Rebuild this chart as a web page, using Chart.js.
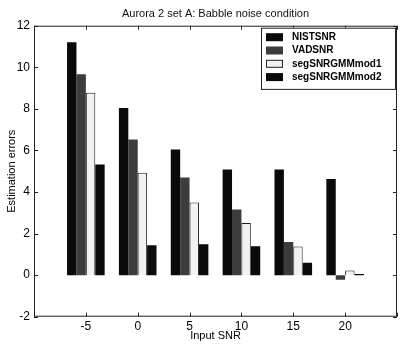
<!DOCTYPE html>
<html>
<head>
<meta charset="utf-8">
<script src="https://cdn.jsdelivr.net/npm/chart.js@4/dist/chart.umd.min.js"></script>
<style>
  html, body { margin: 0; padding: 0; background: #fff; }
  #wrap { width: 400px; height: 345px; position: relative; }
</style>
</head>
<body>
<div id="wrap"><canvas id="barChart"></canvas></div>
<script>
const inputSNR = [-5, 0, 5, 10, 15, 20];
const nistSNR = [11.2, 8.04, 6.04, 5.08, 5.08, 4.63];
const vadSNR = [9.66, 6.52, 4.7, 3.16, 1.59, -0.22];
const segMod1 = [8.77, 4.92, 3.5, 2.51, 1.38, 0.22];
const segMod2 = [5.32, 1.44, 1.48, 1.39, 0.59, 0.05];
const seriesNames = ['NISTSNR', 'VADSNR', 'segSNRGMMmod1', 'segSNRGMMmod2'];
const yTicks = [-2, 0, 2, 4, 6, 8, 10, 12];

const fontFamily = '"Liberation Sans", Arial, Helvetica, sans-serif';

function toPoints(values) {
    return inputSNR.map((x, i) => ({ x: x, y: values[i] }));
}

// box around the axes plus small inward ticks, matlab style
const framePlugin = {
    id: 'frame',
    afterDatasetsDraw(chart) {
        const { ctx, chartArea: a, scales } = chart;
        ctx.save();
        ctx.strokeStyle = '#222';
        ctx.lineWidth = 1;
        ctx.strokeRect(a.left + 0.5, a.top + 0.5, a.right - a.left - 1, a.bottom - a.top - 1);
        ctx.beginPath();
        scales.x.ticks.forEach(t => {
            const px = Math.round(scales.x.getPixelForValue(t.value)) + 0.5;
            ctx.moveTo(px, a.bottom); ctx.lineTo(px, a.bottom - 4);
            ctx.moveTo(px, a.top); ctx.lineTo(px, a.top + 4);
        });
        scales.y.ticks.forEach(t => {
            const py = Math.round(scales.y.getPixelForValue(t.value)) + 0.5;
            ctx.moveTo(a.left, py); ctx.lineTo(a.left + 4, py);
            ctx.moveTo(a.right, py); ctx.lineTo(a.right - 4, py);
        });
        ctx.stroke();
        ctx.restore();
    }
};

// legend box in the upper right corner of the plot
const boxLegend = {
    id: 'boxLegend',
    afterDraw(chart) {
        const { ctx, chartArea: a } = chart;
        const left = 261, top = a.top + 2, right = a.right - 1, rowH = 13.3;
        const bottom = top + 12 + rowH * chart.data.datasets.length - 4;
        ctx.save();
        ctx.fillStyle = '#fff';
        ctx.fillRect(left, top, right - left, bottom - top);
        ctx.strokeStyle = '#222';
        ctx.lineWidth = 1;
        ctx.strokeRect(left + 0.5, top + 0.5, right - left - 1, bottom - top);
        ctx.font = 'bold 10px ' + fontFamily;
        ctx.textBaseline = 'middle';
        chart.data.datasets.forEach((ds, i) => {
            const cy = top + 9.5 + i * rowH;
            ctx.fillStyle = ds.backgroundColor;
            ctx.fillRect(266, cy - 4, 17, 8);
            if (ds.borderWidth) {
                ctx.strokeStyle = ds.borderColor;
                ctx.strokeRect(266.5, cy - 3.5, 16, 7);
            }
            ctx.fillStyle = '#000';
            ctx.fillText(ds.label, 292, cy);
        });
        ctx.restore();
    }
};

const ctx = document.getElementById('barChart').getContext('2d');

new Chart(ctx, {
    type: 'bar',
    data: {
        datasets: [
            {
                label: seriesNames[0],
                data: toPoints(nistSNR),
                backgroundColor: '#0a0a0a',
                borderWidth: 0
            },
            {
                label: seriesNames[1],
                data: toPoints(vadSNR),
                backgroundColor: '#3c3c3c',
                borderWidth: 0
            },
            {
                label: seriesNames[2],
                data: toPoints(segMod1),
                backgroundColor: '#f2f2f2',
                borderColor: '#222',
                borderWidth: 1
            },
            {
                label: seriesNames[3],
                data: toPoints(segMod2),
                backgroundColor: '#0a0a0a',
                borderWidth: 0
            }
        ]
    },
    options: {
        responsive: true,
        maintainAspectRatio: false,
        animation: false,
        categoryPercentage: 0.725,
        barPercentage: 1,
        layout: { padding: { right: 2, left: 0, top: 0, bottom: 0 } },
        plugins: {
            legend: { display: false },
            tooltip: { enabled: false },
            title: {
                display: true,
                fullSize: false,
                text: 'Aurora 2 set A: Babble noise condition',
                color: '#111',
                font: { family: fontFamily, size: 11, weight: 'normal', lineHeight: 1.2 },
                padding: { top: 7, bottom: 5.5 }
            }
        },
        scales: {
            x: {
                type: 'linear',
                min: -10,
                max: 25,
                offset: false,
                grid: { display: false, drawTicks: false },
                border: { display: false },
                ticks: {
                    stepSize: 5,
                    padding: 3,
                    color: '#000',
                    font: { family: fontFamily, size: 12 },
                    callback: v => inputSNR.includes(v) ? String(v) : ''
                },
                title: {
                    display: true,
                    text: 'Input SNR',
                    color: '#000',
                    font: { family: fontFamily, size: 11 },
                    padding: { top: 0, bottom: 2 }
                },
                afterFit: scale => { scale.height = 28.3; }
            },
            y: {
                min: -2,
                max: 12,
                grid: { display: false, drawTicks: false },
                border: { display: false },
                afterBuildTicks: scale => { scale.ticks = yTicks.map(v => ({ value: v })); },
                ticks: {
                    padding: 4,
                    color: '#000',
                    font: { family: fontFamily, size: 12 }
                },
                title: {
                    display: true,
                    text: 'Estimation errors',
                    color: '#000',
                    font: { family: fontFamily, size: 11 },
                    padding: { top: 5.5, bottom: 0 }
                },
                afterFit: scale => { scale.width = 34; }
            }
        }
    },
    plugins: [framePlugin, boxLegend]
});
</script>
</body>
</html>
